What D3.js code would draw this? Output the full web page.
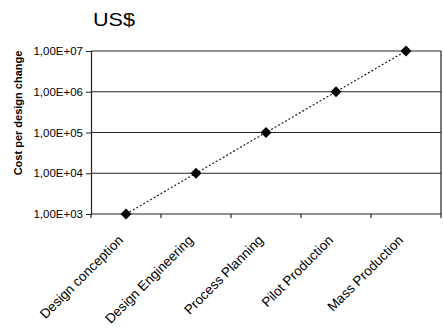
<!DOCTYPE html>
<html><head><meta charset="utf-8">
<script src="https://cdn.jsdelivr.net/npm/d3@7"></script>
<style>body{margin:0;background:#fff}svg{display:block}</style>
</head><body>
<script>
const categories = ["Design conception","Design Engineering","Process Planning","Pilot Production","Mass Production"];
const values = [1e3, 1e4, 1e5, 1e6, 1e7];
const tickValues = [1e3, 1e4, 1e5, 1e6, 1e7];
const tickLabels = ["1,00E+03","1,00E+04","1,00E+05","1,00E+06","1,00E+07"];
const title = "US$";
const yTitle = "Cost per design change";

const W = 443, H = 329;
const m = {left: 91, right: 2, top: 51, bottom: 115};
const svg = d3.select("body").append("svg").attr("width", W).attr("height", H);
const x = d3.scaleBand().domain(categories).range([m.left, W - m.right]).padding(0);
const y = d3.scaleLog().domain([1e3, 1e7]).range([H - m.bottom, m.top]);
const font = "Arial, 'Liberation Sans', sans-serif";

// gridlines
svg.append("g").selectAll("line").data(tickValues).join("line")
  .attr("x1", m.left).attr("x2", W - m.right)
  .attr("y1", d => y(d)).attr("y2", d => y(d))
  .attr("stroke", "#222").attr("stroke-width", 1.2);
// right border
svg.append("line").attr("x1", W - m.right).attr("x2", W - m.right)
  .attr("y1", m.top).attr("y2", H - m.bottom).attr("stroke", "#222").attr("stroke-width", 1.2);

// y axis
const yAxis = svg.append("g").attr("transform", `translate(${m.left},0)`)
  .call(d3.axisLeft(y).tickValues(tickValues).tickFormat((d,i) => tickLabels[i]).tickSize(5).tickPadding(3));
yAxis.select(".domain").attr("stroke", "#222").attr("stroke-width", 1.2);
yAxis.selectAll("line").attr("stroke", "#222");
yAxis.selectAll("text").attr("font-family", font).attr("font-size", 11.5).attr("fill", "#000");

// x axis ticks at category edges
const edges = categories.map(c => x(c)).concat([x(categories[categories.length-1]) + x.bandwidth()]);
svg.append("g").selectAll("line").data(edges).join("line")
  .attr("x1", d => d).attr("x2", d => d)
  .attr("y1", H - m.bottom).attr("y2", H - m.bottom + 4)
  .attr("stroke", "#222").attr("stroke-width", 1.2);
svg.append("g").selectAll("text").data(categories).join("text")
  .attr("transform", d => `translate(${x(d) + x.bandwidth()/2 - 2},${H - m.bottom + 27}) rotate(-45)`)
  .attr("text-anchor", "end")
  .attr("font-family", font).attr("font-size", 13.5).attr("fill", "#000")
  .text(d => d);

// line
const line = d3.line().x((d,i) => x(categories[i]) + x.bandwidth()/2).y(d => y(d));
svg.append("path").datum(values).attr("d", line)
  .attr("fill", "none").attr("stroke", "#222").attr("stroke-width", 1.2).attr("stroke-dasharray", "2,2");

// markers
svg.append("g").selectAll("path").data(values).join("path")
  .attr("d", d3.symbol().type(d3.symbolSquare).size(60))
  .attr("transform", (d,i) => `translate(${x(categories[i]) + x.bandwidth()/2},${y(d)}) rotate(45)`)
  .attr("fill", "#000");

// titles
svg.append("text").attr("x", 93).attr("y", 26)
  .attr("font-family", font).attr("font-size", 18).attr("fill", "#000")
  .attr("textLength", 42).attr("lengthAdjust", "spacingAndGlyphs").text(title);
svg.append("text")
  .attr("transform", `translate(22,113) rotate(-90)`)
  .attr("text-anchor", "middle")
  .attr("font-family", font).attr("font-size", 11).attr("font-weight", "bold").attr("fill", "#000")
  .text(yTitle);
</script>
</body></html>
